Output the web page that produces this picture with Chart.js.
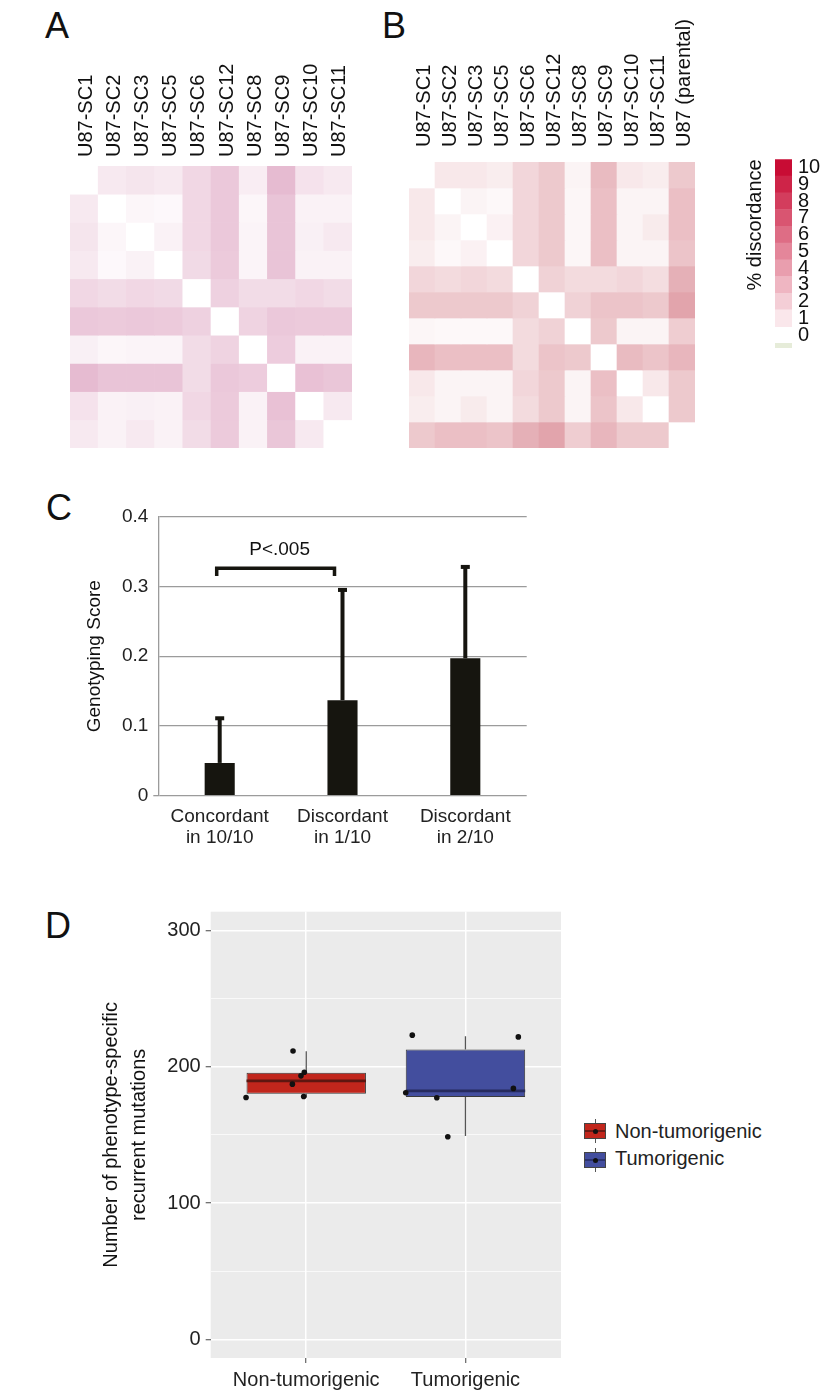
<!DOCTYPE html>
<html>
<head>
<meta charset="utf-8">
<script src="https://cdn.jsdelivr.net/npm/chart.js@4.4.1/dist/chart.umd.min.js"></script>
<style>
  body { margin: 0; background: #fff; width: 825px; height: 1395px; position: relative; overflow: hidden;
         font-family: 'Liberation Sans', Arial, sans-serif; color: #111; }
  canvas { position: absolute; }
  .panel { position: absolute; font-size: 36px; line-height: 1; }
  .legtext { position: absolute; font-size: 20px; line-height: 20px; color: #222; }
  .key { position: absolute; width: 22px; height: 16px; box-sizing: border-box; border: 1px solid #444; }
  .whisk { position: absolute; width: 1px; background: #555; }
  .dot { position: absolute; left: 8px; top: 5px; width: 5px; height: 5px; border-radius: 50%; background: #111; }
</style>
</head>
<body>

<div class="panel" style="left:45px;top:8px">A</div>
<div class="panel" style="left:382px;top:8px">B</div>
<div class="panel" style="left:46px;top:490px">C</div>
<div class="panel" style="left:45px;top:908px">D</div>

<canvas id="heatA" width="342" height="392" style="left:40px;top:56px"></canvas>
<canvas id="heatB" width="346" height="438" style="left:379px;top:10px"></canvas>
<canvas id="scaleBar" width="90" height="242" style="left:735px;top:140px"></canvas>
<canvas id="scoreChart" width="500" height="380" style="left:40px;top:480px"></canvas>
<canvas id="mutChart" width="540" height="505" style="left:40px;top:890px"></canvas>

<!-- legend for panel D -->
<div class="whisk" style="left:595px;top:1119px;height:24px"></div>
<div class="key" style="left:584px;top:1123px;background:linear-gradient(#c1261c 42%,#6e1a14 42%,#6e1a14 58%,#c1261c 58%)"><div class="dot"></div></div>
<div class="legtext" style="left:615px;top:1121px">Non-tumorigenic</div>
<div class="whisk" style="left:595px;top:1148px;height:24px"></div>
<div class="key" style="left:584px;top:1152px;background:linear-gradient(#434e9e 42%,#2c3370 42%,#2c3370 58%,#434e9e 58%)"><div class="dot"></div></div>
<div class="legtext" style="left:615px;top:1148px">Tumorigenic</div>

<script>
// ---- panel A / B : % discordance between subclones ----
const clonesA = ['U87-SC1', 'U87-SC2', 'U87-SC3', 'U87-SC5', 'U87-SC6',
                 'U87-SC12', 'U87-SC8', 'U87-SC9', 'U87-SC10', 'U87-SC11'];
const clonesB = clonesA.concat(['U87 (parental)']);

// rows follow the same order as the columns, null = diagonal
const discordA = [
  [null, 1.0, 1.2, 1.0, 1.8, 2.5, 0.8, 3.1, 1.3, 1.0],
  [1.0, null, 0.4, 0.3, 1.8, 2.5, 0.4, 2.7, 0.6, 0.6],
  [1.2, 0.4, null, 0.6, 1.8, 2.5, 0.5, 2.7, 0.7, 1.0],
  [1.0, 0.3, 0.6, null, 1.7, 2.4, 0.5, 2.7, 0.6, 0.6],
  [1.8, 1.6, 1.8, 1.7, null, 2.1, 1.6, 1.6, 1.8, 1.6],
  [2.5, 2.4, 2.5, 2.4, 2.1, null, 2.0, 2.5, 2.4, 2.4],
  [0.7, 0.4, 0.5, 0.5, 1.6, 2.0, null, 2.3, 0.6, 0.6],
  [3.1, 2.7, 2.7, 2.7, 1.6, 2.5, 2.3, null, 2.8, 2.6],
  [1.3, 0.6, 0.7, 0.6, 1.8, 2.4, 0.6, 2.8, null, 1.0],
  [1.0, 0.6, 1.0, 0.6, 1.6, 2.4, 0.6, 2.6, 1.0, null]
];

const discordB = [
  [null, 1.0, 1.0, 0.8, 1.8, 2.4, 0.5, 3.0, 1.0, 0.8, 2.4],
  [1.0, null, 0.5, 0.3, 1.8, 2.4, 0.4, 2.8, 0.5, 0.5, 2.8],
  [1.0, 0.5, null, 0.6, 1.8, 2.4, 0.4, 2.8, 0.5, 0.9, 2.8],
  [0.8, 0.3, 0.6, null, 1.8, 2.4, 0.4, 2.8, 0.5, 0.5, 2.6],
  [1.8, 1.6, 1.8, 1.6, null, 2.0, 1.6, 1.6, 1.8, 1.5, 3.5],
  [2.4, 2.4, 2.4, 2.4, 2.0, null, 2.0, 2.6, 2.6, 2.4, 4.0],
  [0.4, 0.3, 0.3, 0.3, 1.6, 2.0, null, 2.4, 0.5, 0.5, 2.2],
  [3.2, 2.8, 2.8, 2.8, 1.6, 2.6, 2.4, null, 3.0, 2.6, 3.2],
  [1.0, 0.5, 0.5, 0.5, 1.8, 2.4, 0.5, 2.8, null, 1.0, 2.4],
  [0.8, 0.5, 0.9, 0.5, 1.6, 2.4, 0.5, 2.6, 1.0, null, 2.4],
  [2.4, 2.8, 2.8, 2.6, 3.5, 4.0, 2.2, 3.2, 2.4, 2.4, null]
];

const scaleLevels = [1, 2, 3, 4, 5, 6, 7, 8, 9, 10];
const scaleTicks = [0, 1, 2, 3, 4, 5, 6, 7, 8, 9, 10];

// ---- panel C : genotyping score ----
const groupsC = [['Concordant', 'in 10/10'], ['Discordant', 'in 1/10'], ['Discordant', 'in 2/10']];
const scoreMean = [0.047, 0.137, 0.197];
const scoreErr = [0.064, 0.158, 0.131];
const pLabel = 'P<.005';

// ---- panel D : phenotype-specific recurrent mutations ----
const phenotypes = ['Non-tumorigenic', 'Tumorigenic'];
const whiskLow = [177.5, 149.2];
const q1 = [180.2, 177.8];
const median = [189.7, 182.4];
const q3 = [195.6, 212.8];
const whiskHigh = [211.5, 222.5];
const nonTumJitter = [-0.378, -0.083, -0.033, -0.012, -0.087, -0.016];
const nonTumCounts = [177.5, 211.7, 193.4, 196.0, 187.3, 178.3];
const tumJitter = [-0.334, 0.332, -0.375, -0.18, 0.301, -0.111];
const tumCounts = [223.3, 222.0, 181.0, 177.3, 184.2, 148.7];

Chart.defaults.font.family = "'Liberation Sans', Arial, sans-serif";
Chart.defaults.color = '#111';
Chart.defaults.animation = false;
Chart.defaults.plugins.legend.display = false;
Chart.defaults.plugins.tooltip.enabled = false;

function shade(v, hue) {
  if (v === null) return '#ffffff';
  const t = v / 10;
  return 'rgb(' + hue.map(c => Math.round(255 - (255 - c) * t)).join(',') + ')';
}

function heatmap(id, labels, matrix, hue, gap, headHeight) {
  const datasets = matrix.map(row => ({
    data: row.map(() => 1),
    backgroundColor: row.map(v => shade(v, hue)),
    borderWidth: 0,
    barPercentage: 1,
    categoryPercentage: 1
  }));
  return new Chart(document.getElementById(id), {
    type: 'bar',
    data: { labels: labels, datasets: datasets },
    options: {
      responsive: false,
      devicePixelRatio: 1,
      layout: { padding: { left: 30, right: 30, top: 0, bottom: 0 } },
      scales: {
        x: {
          position: 'top',
          stacked: true,
          grid: { display: false, drawTicks: false },
          border: { display: false },
          ticks: { minRotation: 90, maxRotation: 90, autoSkip: false, padding: gap, labelOffset: 26,
                   color: '#111', font: { size: 20 } },
          afterFit: s => { s.height = headHeight; }
        },
        y: { display: false, stacked: true, reverse: true, min: 0, max: matrix.length }
      }
    }
  });
}

heatmap('heatA', clonesA, discordA, [175, 35, 105], 9, 110);
heatmap('heatB', clonesB, discordB, [182, 28, 48], 15, 152);

// colour key
const barHue = [200, 12, 52];
const keySets = scaleLevels.map(v => ({
  data: [[v - 0.5, v + 0.5]],
  backgroundColor: shade(v, barHue),
  grouped: false, barPercentage: 1, categoryPercentage: 1, borderWidth: 0
}));
keySets.push({ data: [[-0.75, -0.5]], backgroundColor: '#e6ecd9', grouped: false,
               barPercentage: 1, categoryPercentage: 1, borderWidth: 0 });

new Chart(document.getElementById('scaleBar'), {
  type: 'bar',
  data: { labels: [''], datasets: keySets },
  options: {
    responsive: false,
    devicePixelRatio: 1,
    layout: { padding: { top: 19.3, bottom: 30.2, left: 0, right: 0 } },
    scales: {
      x: { display: false },
      y: {
        position: 'right', min: -1, max: 10.5,
        grid: { display: false, drawTicks: false }, border: { display: false },
        afterBuildTicks: axis => { axis.ticks = scaleTicks.map(v => ({ value: v })); },
        ticks: { autoSkip: false, padding: 6, color: '#111', font: { size: 20 } },
        afterFit: s => { s.width = 33; }
      },
      yl: {
        position: 'left', min: -1, max: 10.5,
        grid: { display: false, drawTicks: false }, border: { display: false },
        ticks: { display: false },
        title: { display: true, text: '% discordance', align: 'end', color: '#111',
                 font: { size: 20 }, padding: { top: 8, bottom: 0 } },
        afterFit: s => { s.width = 40; }
      }
    }
  }
});

// ---- panel C ----
const barColor = '#16150f';
const errorBars = {
  id: 'errorBars',
  afterDatasetsDraw(chart) {
    const { ctx, scales: { y } } = chart;
    const bars = chart.getDatasetMeta(0).data;
    ctx.save();
    ctx.strokeStyle = barColor;
    ctx.fillStyle = barColor;
    ctx.lineWidth = 4;
    bars.forEach((bar, i) => {
      const top = y.getPixelForValue(scoreMean[i] + scoreErr[i]);
      ctx.beginPath();
      ctx.moveTo(bar.x, bar.y);
      ctx.lineTo(bar.x, top);
      ctx.stroke();
      ctx.fillRect(bar.x - 4.5, top - 2, 9, 4);
    });
    // significance bracket between the first two groups
    const yb = y.getPixelForValue(0.326);
    const yd = y.getPixelForValue(0.315);
    const x0 = bars[0].x - 3, x1 = bars[1].x - 8;
    ctx.lineWidth = 3.5;
    ctx.beginPath();
    ctx.moveTo(x0, yd);
    ctx.lineTo(x0, yb);
    ctx.lineTo(x1, yb);
    ctx.lineTo(x1, yd);
    ctx.stroke();
    ctx.fillStyle = '#111';
    ctx.font = "19px 'Liberation Sans', Arial, sans-serif";
    ctx.textAlign = 'center';
    ctx.textBaseline = 'middle';
    ctx.fillText(pLabel, (x0 + x1) / 2 + 4, y.getPixelForValue(0.352));
    ctx.restore();
  }
};

new Chart(document.getElementById('scoreChart'), {
  type: 'bar',
  data: {
    labels: groupsC,
    datasets: [{ data: scoreMean, backgroundColor: barColor, borderWidth: 0,
                 barPercentage: 0.245, categoryPercentage: 1 }]
  },
  options: {
    responsive: false,
    devicePixelRatio: 1,
    layout: { padding: { top: 36.7, right: 13.3, left: 0, bottom: 0 } },
    scales: {
      x: {
        grid: { display: false, drawTicks: false }, border: { display: false },
        ticks: { padding: 10.5, color: '#222', font: { size: 19, lineHeight: 1.1 } },
        afterFit: s => { s.height = 64.3; }
      },
      y: {
        min: 0, max: 0.4,
        grid: { color: '#9b9b9b', lineWidth: 1.3, tickLength: 5,
                tickColor: c => (c.tick && c.tick.value === 0 ? '#9b9b9b' : 'rgba(0,0,0,0)') },
        border: { display: true, color: '#9b9b9b', width: 1.3 },
        ticks: { stepSize: 0.1, padding: 5, color: '#222', font: { size: 19 } },
        title: { display: true, text: 'Genotyping Score', color: '#111', font: { size: 19 },
                 padding: { top: 43.6, bottom: 0 } },
        afterFit: s => { s.width = 118.3; }
      }
    }
  },
  plugins: [errorBars]
});

// ---- panel D ----
const boxFill = ['#c1261c', '#434e9e'];
const boxMedian = ['#5e1610', '#262b5e'];

const panelBg = {
  id: 'panelBg',
  beforeDraw(chart) {
    const { ctx, chartArea: a } = chart;
    ctx.save();
    ctx.fillStyle = '#ebebeb';
    ctx.fillRect(a.left, a.top, a.right - a.left, a.bottom - a.top);
    ctx.restore();
  }
};

const boxParts = {
  id: 'boxParts',
  afterDatasetDraw(chart, args) {
    if (args.index !== 0) return;
    const { ctx, scales: { y } } = chart;
    const boxes = args.meta.data;
    ctx.save();
    boxes.forEach((box, i) => {
      const hw = box.width / 2;
      ctx.strokeStyle = '#555';
      ctx.lineWidth = 1.3;
      ctx.beginPath();
      ctx.moveTo(box.x, y.getPixelForValue(q3[i]));
      ctx.lineTo(box.x, y.getPixelForValue(whiskHigh[i]));
      ctx.moveTo(box.x, y.getPixelForValue(q1[i]));
      ctx.lineTo(box.x, y.getPixelForValue(whiskLow[i]));
      ctx.stroke();
      ctx.strokeStyle = boxMedian[i];
      ctx.lineWidth = 2.6;
      ctx.beginPath();
      const ym = y.getPixelForValue(median[i]);
      ctx.moveTo(box.x - hw, ym);
      ctx.lineTo(box.x + hw, ym);
      ctx.stroke();
    });
    ctx.restore();
  }
};

const points = nonTumJitter.map((j, i) => ({ x: 1 + j, y: nonTumCounts[i] }))
  .concat(tumJitter.map((j, i) => ({ x: 2 + j, y: tumCounts[i] })));

new Chart(document.getElementById('mutChart'), {
  type: 'scatter',
  data: {
    datasets: [
      {
        type: 'bar',
        order: 2,
        data: phenotypes.map((p, i) => ({ x: i + 1, y: [q1[i], q3[i]] })),
        backgroundColor: boxFill,
        borderColor: '#3a3a3a',
        borderWidth: 1,
        borderSkipped: false,
        barPercentage: 1,
        categoryPercentage: 0.75
      },
      {
        type: 'scatter',
        order: 1,
        data: points,
        pointRadius: 2.8,
        pointBackgroundColor: '#111',
        pointBorderWidth: 0
      }
    ]
  },
  options: {
    responsive: false,
    devicePixelRatio: 1,
    layout: { padding: { top: 21.7, right: 19, left: 0, bottom: 0 } },
    scales: {
      x: {
        type: 'linear', min: 0.4, max: 2.6, offset: false,
        afterBuildTicks: axis => { axis.ticks = phenotypes.map((p, i) => ({ value: i + 1 })); },
        grid: { offset: false, color: '#ffffff', lineWidth: 1.5, tickColor: '#444', tickLength: 5, tickWidth: 1 },
        border: { display: false },
        ticks: { autoSkip: false, padding: 5, color: '#222', font: { size: 20 },
                 callback: v => phenotypes[v - 1] },
        afterFit: s => { s.height = 37; }
      },
      y: {
        min: -13.7, max: 313.9,
        afterBuildTicks: axis => { axis.ticks = [0, 50, 100, 150, 200, 250, 300].map(v => ({ value: v })); },
        grid: {
          color: '#ffffff',
          lineWidth: c => (c.tick && c.tick.value % 100 === 0 ? 1.5 : 0.7),
          tickLength: 5,
          tickWidth: 1,
          tickColor: c => (c.tick && c.tick.value % 100 === 0 ? '#444' : 'rgba(0,0,0,0)')
        },
        border: { display: false },
        ticks: { autoSkip: false, padding: 5, color: '#222', font: { size: 20 },
                 callback: v => (v % 100 === 0 ? v : '') },
        title: { display: true, text: ['Number of phenotype-specific', 'recurrent mutations'],
                 color: '#111', font: { size: 20, lineHeight: 1.4 }, padding: { top: 57.7, bottom: 0 } },
        afterFit: s => { s.width = 170.7; }
      }
    }
  },
  plugins: [panelBg, boxParts]
});
</script>
</body>
</html>
